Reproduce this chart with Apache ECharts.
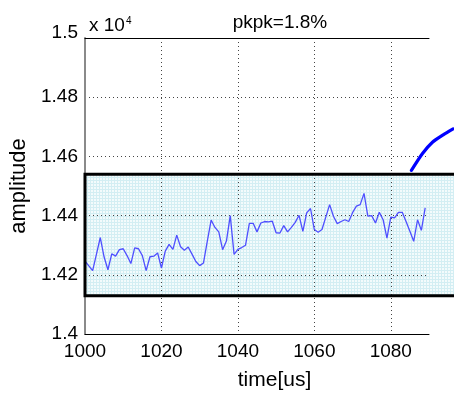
<!DOCTYPE html>
<html>
<head>
<meta charset="utf-8">
<script src="https://cdn.jsdelivr.net/npm/echarts@6/dist/echarts.min.js"></script>
<style>
html, body { margin: 0; padding: 0; background: #fff; }
#chart { width: 454px; height: 396px; }
</style>
</head>
<body>
<div id="chart"></div>
<script>
// Sample times [us]
const times = [
  1000, 1001, 1002, 1003, 1004, 1005, 1006, 1007, 1008, 1009,
  1010, 1011, 1012, 1013, 1014, 1015, 1016, 1017, 1018, 1019,
  1020, 1021, 1022, 1023, 1024, 1025, 1026, 1027, 1028, 1029,
  1030, 1031, 1032, 1033, 1034, 1035, 1036, 1037, 1038, 1039,
  1040, 1041, 1042, 1043, 1044, 1045, 1046, 1047, 1048, 1049,
  1050, 1051, 1052, 1053, 1054, 1055, 1056, 1057, 1058, 1059,
  1060, 1061, 1062, 1063, 1064, 1065, 1066, 1067, 1068, 1069,
  1070, 1071, 1072, 1073, 1074, 1075, 1076, 1077, 1078, 1079,
  1080, 1081, 1082, 1083, 1084, 1085, 1086, 1087, 1088, 1089
];

// Measured amplitude at each sample
const amplitude = [
  14246, 14230, 14214, 14270, 14326, 14260, 14217, 14271, 14263, 14285,
  14288, 14265, 14238, 14291, 14288, 14265, 14214, 14261, 14263, 14274,
  14223, 14280, 14303, 14286, 14334, 14295, 14283, 14294, 14270, 14245,
  14231, 14240, 14314, 14385, 14360, 14345, 14285, 14314, 14400, 14269,
  14286, 14292, 14300, 14374, 14374, 14345, 14375, 14380, 14379, 14381,
  14342, 14341, 14366, 14345, 14360, 14377, 14401, 14347, 14409, 14424,
  14353, 14344, 14353, 14395, 14437, 14398, 14373, 14380, 14386, 14380,
  14410, 14432, 14437, 14475, 14398, 14400, 14375, 14411, 14386, 14324,
  14395, 14392, 14411, 14411, 14380, 14347, 14313, 14386, 14350, 14426
];

// Heavy curve at the right edge
const arcTimes = [1085.4, 1088.3, 1090.9, 1093.7, 1096.3];
const arcAmplitude = [14553, 14610, 14648, 14673, 14693];

// Tolerance band: time span and amplitude limits
const bandTimes = [1000, 1100];
const bandAmplitude = [14129, 14540];

// Axis ranges and ticks
const xRange = [1000, 1090];
const xStep = 20;
const yRange = [14000, 15000];
const yStep = 200;

const titleText = 'pkpk=1.8%';
const xName = 'time[us]';
const yName = 'amplitude';

const FONT = "'Liberation Sans', Arial, sans-serif";

// Light cyan checked fill for the band
const patCanvas = document.createElement('canvas');
patCanvas.width = 3;
patCanvas.height = 3;
const pg = patCanvas.getContext('2d');
pg.fillStyle = '#f3fbfc';
pg.fillRect(0, 0, 3, 3);
pg.fillStyle = '#d3eef3';
pg.fillRect(0, 0, 3, 1);
pg.fillRect(0, 0, 1, 3);

const lineData = times.map((t, i) => [t, amplitude[i]]);
const arcData = arcTimes.map((t, i) => [t, arcAmplitude[i]]);
const bandData = [[bandTimes[0], bandTimes[1], bandAmplitude[0], bandAmplitude[1]]];

function bandRect(api) {
  const p0 = api.coord([api.value(0), api.value(3)]);
  const p1 = api.coord([api.value(1), api.value(2)]);
  return { x: p0[0], y: p0[1], width: p1[0] - p0[0], height: p1[1] - p0[1] };
}

const chart = echarts.init(document.getElementById('chart'), null, { renderer: 'canvas' });

chart.setOption({
  animation: false,
  backgroundColor: '#fff',
  textStyle: { fontFamily: FONT },
  grid: { left: 85, right: 25, top: 38, bottom: 61, containLabel: false },
  title: [
    {
      text: titleText,
      left: 275, top: 8,
      textAlign: 'center',
      textStyle: { fontFamily: FONT, fontSize: 19, fontWeight: 'normal', color: '#000' }
    },
    {
      text: '{a|x 10}{b|4}',
      left: 84, top: 11,
      textStyle: {
        fontWeight: 'normal',
        rich: {
          a: { fontFamily: FONT, fontSize: 19, fontWeight: 'normal', color: '#000', verticalAlign: 'bottom' },
          b: { fontFamily: FONT, fontSize: 10, fontWeight: 'normal', color: '#000', verticalAlign: 'top', padding: [0, 0, 8, 1] }
        }
      }
    }
  ],
  xAxis: [
    {
      type: 'value',
      min: xRange[0], max: xRange[1], interval: xStep,
      position: 'bottom',
      z: 2,
      name: xName,
      nameLocation: 'middle',
      nameGap: 36,
      nameTextStyle: { fontFamily: FONT, fontSize: 21, color: '#000', padding: [0, 0, 0, 35] },
      axisLine: { show: true, onZero: false, lineStyle: { color: '#000', width: 1 } },
      axisTick: { show: false },
      axisLabel: { show: true, margin: 8, showMaxLabel: false, fontFamily: FONT, fontSize: 19, color: '#000',
        formatter: v => String(v) },
      splitLine: { show: true, showMinLine: false, showMaxLine: false,
        lineStyle: { color: '#444', width: 1, type: [1, 3] } }
    },
    {
      type: 'value',
      min: xRange[0], max: xRange[1], interval: xStep,
      position: 'top',
      z: 2,
      axisLine: { show: true, onZero: false, lineStyle: { color: '#000', width: 1 } },
      axisTick: { show: false },
      axisLabel: { show: false },
      splitLine: { show: false }
    }
  ],
  yAxis: {
    type: 'value',
    min: yRange[0], max: yRange[1], interval: yStep,
    z: 2,
    name: yName,
    nameLocation: 'middle',
    nameGap: 52,
    nameRotate: 90,
    nameTextStyle: { fontFamily: FONT, fontSize: 22, color: '#000' },
    axisLine: { show: true, onZero: false, lineStyle: { color: '#8a8a8a', width: 2 } },
    axisTick: { show: false },
    axisLabel: {
      show: true, margin: 7, fontFamily: FONT, fontSize: 19, color: '#000',
      formatter: v => {
        const s = String(+(v / 1e4).toFixed(2));
        return v === yRange[1] ? '{top|' + s + '}' : s;
      },
      rich: { top: { fontFamily: FONT, fontSize: 19, color: '#000', padding: [0, 0, 10, 0] } }
    },
    splitLine: { show: true, showMinLine: false, showMaxLine: false,
      lineStyle: { color: '#444', width: 1, type: [1, 3] } }
  },
  series: [
    {
      type: 'custom',
      name: 'band fill',
      z: 1,
      clip: false,
      silent: true,
      encode: { x: [0, 1], y: [2, 3] },
      data: bandData,
      renderItem: (params, api) => ({
        type: 'rect',
        shape: bandRect(api),
        style: { fill: { image: patCanvas, repeat: 'repeat' }, stroke: null }
      })
    },
    {
      type: 'custom',
      name: 'band edge',
      z: 4,
      clip: false,
      silent: true,
      encode: { x: [0, 1], y: [2, 3] },
      data: bandData,
      renderItem: (params, api) => ({
        type: 'rect',
        shape: bandRect(api),
        style: { fill: null, stroke: '#000', lineWidth: 3 }
      })
    },
    {
      type: 'line',
      name: 'amplitude',
      z: 3,
      data: lineData,
      showSymbol: false,
      symbol: 'none',
      lineStyle: { color: '#4f4fff', width: 1.3 }
    },
    {
      // Curve runs past the right edge of the axes, so it is drawn as one unclipped polyline
      type: 'custom',
      name: 'edge curve',
      z: 5,
      clip: false,
      silent: true,
      encode: { x: 0, y: 1 },
      data: arcData,
      renderItem: (params, api) => {
        if (params.dataIndex !== 0) return null;
        const pts = arcData.map(d => api.coord(d));
        return {
          type: 'polyline',
          shape: { points: pts, smooth: 0.25 },
          style: { fill: null, stroke: '#0000ff', lineWidth: 3.2, lineCap: 'round', lineJoin: 'round' }
        };
      }
    }
  ]
});
</script>
</body>
</html>
